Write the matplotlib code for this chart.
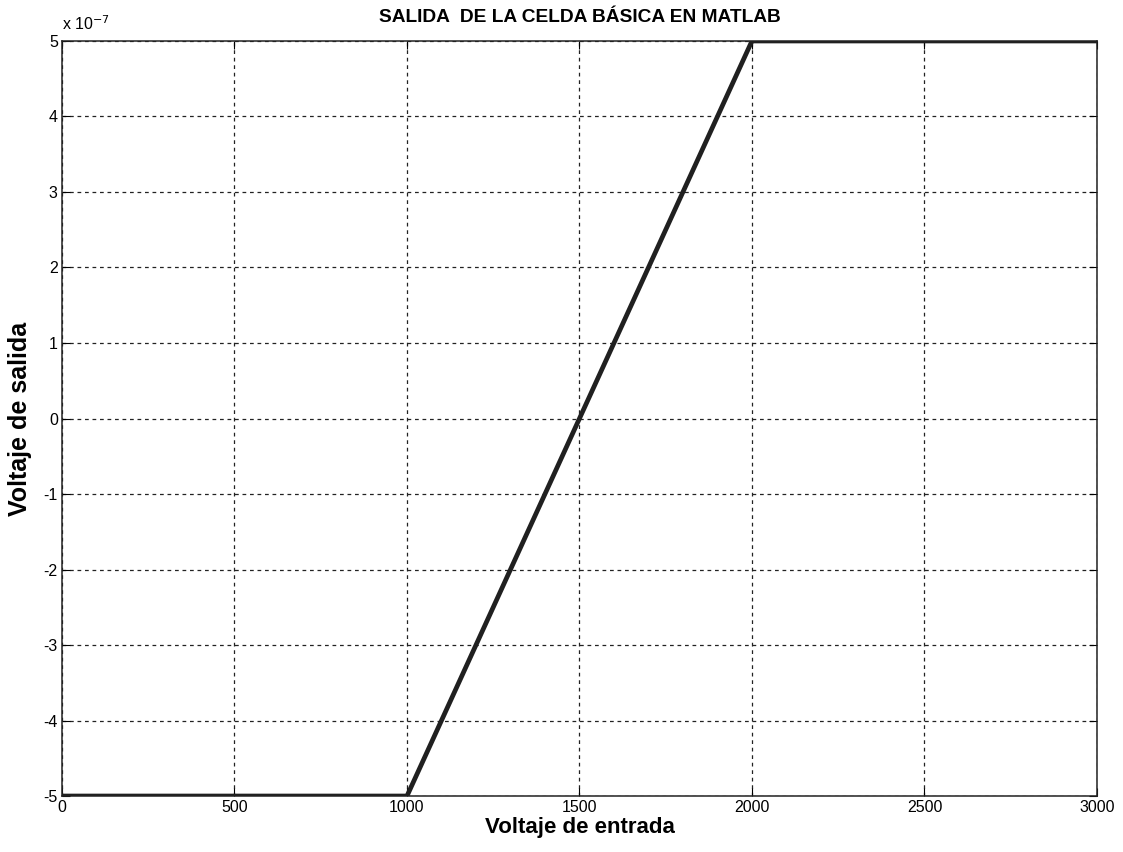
import matplotlib
matplotlib.use("Agg")
import matplotlib.pyplot as plt
from matplotlib.ticker import FuncFormatter

plt.rcParams['font.family'] = ['Liberation Sans', 'DejaVu Sans']

# input voltage and cell output
v_in = [0, 1000, 2000, 3000]
v_out = [-5e-7, -5e-7, 5e-7, 5e-7]

xticks = [0, 500, 1000, 1500, 2000, 2500, 3000]
yticks = [i * 1e-7 for i in range(-5, 6)]

fig = plt.figure(figsize=(11.23, 8.52), dpi=100)
ax = fig.add_axes([0.0552, 0.0657, 0.9216, 0.8862])

ax.plot(v_in, v_out, color='#202020', lw=3.4, solid_capstyle='butt')

ax.set_xlim(0, 3000)
ax.set_ylim(-5e-7, 5e-7)
ax.set_xticks(xticks)
ax.set_yticks(yticks)
ax.yaxis.set_major_formatter(FuncFormatter(lambda v, p: '%d' % round(v / 1e-7)))
ax.tick_params(direction='in', top=True, right=True, length=6, labelsize=11.5, pad=3)
ax.grid(True, color='#222222', ls=(0, (3, 3)), lw=0.9)
for s in ax.spines.values():
    s.set_linewidth(1.1)
    s.set_color('#222222')

ax.text(0.0, 1.011, r'x 10$^{-7}$', transform=ax.transAxes, fontsize=11.5, va='bottom', ha='left')
ax.set_title('SALIDA  DE LA CELDA BÁSICA EN MATLAB', fontsize=13.8, fontweight='bold', pad=14)
ax.set_xlabel('Voltaje de entrada', fontsize=16, fontweight='bold', labelpad=1)
ax.set_ylabel('Voltaje de salida', fontsize=18, fontweight='bold', labelpad=8)

fig.savefig('out.png', dpi=100)
